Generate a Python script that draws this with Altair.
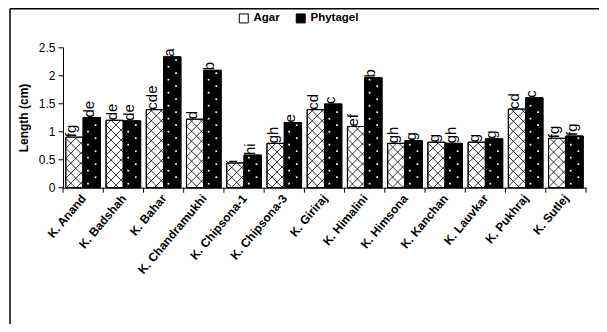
import altair as alt
import pandas as pd
import numpy as np

cultivars = ["K. Anand", "K. Badshah", "K. Bahar", "K. Chandramukhi", "K. Chipsona-1",
             "K. Chipsona-3", "K. Giriraj", "K. Himalini", "K. Himsona", "K. Kanchan",
             "K. Lauvkar", "K. Pukhraj", "K. Sutlej"]
agar = [0.90, 1.20, 1.39, 1.22, 0.44, 0.79, 1.39, 1.09, 0.79, 0.81, 0.81, 1.40, 0.88]
phytagel = [1.25, 1.19, 2.33, 2.09, 0.58, 1.16, 1.49, 1.96, 0.84, 0.79, 0.87, 1.60, 0.92]
agar_letters = ["fg", "de", "cde", "d", "i", "gh", "cd", "ef", "gh", "g", "g", "cd", "fg"]
phyt_letters = ["de", "de", "a", "b", "hi", "e", "c", "b", "g", "gh", "g", "c", "fg"]
series = ["Agar", "Phytagel"]
y_ticks = [0, 0.5, 1, 1.5, 2, 2.5]

W, H = 523, 140.4
N = len(cultivars)
PX_X = W / N
PX_Y = H / 2.5
BW = 0.43

rows = []
for i, c in enumerate(cultivars):
    rows.append(dict(cultivar=c, series="Agar", x0=i - BW, x1=i, xc=i - BW / 2,
                     value=agar[i], letter=agar_letters[i]))
    rows.append(dict(cultivar=c, series="Phytagel", x0=i, x1=i + BW, xc=i + BW / 2,
                     value=phytagel[i], letter=phyt_letters[i]))
df = pd.DataFrame(rows)

# crosshatch segments for Agar bars (derived from the bar rectangles)
segs = []
wpx = BW * PX_X
for i in range(N):
    hpx = agar[i] * PX_Y
    x0 = i - BW
    step = 10.0
    c = -hpx
    while c < wpx + hpx:
        a, b = max(0.0, c - hpx), min(wpx, c)
        if b - a > 0.3:
            segs.append(dict(xa=x0 + a / PX_X, ya=(c - a) / PX_Y, xb=x0 + b / PX_X, yb=(c - b) / PX_Y))
        a, b = max(0.0, -c), min(wpx, hpx - c)
        if b - a > 0.3:
            segs.append(dict(xa=x0 + a / PX_X, ya=(a + c) / PX_Y, xb=x0 + b / PX_X, yb=(b + c) / PX_Y))
        c += step
seg_df = pd.DataFrame(segs)

# dot pattern for Phytagel bars
dots = []
for i in range(N):
    hpx = phytagel[i] * PX_Y
    k = 0
    ypx = 4.0
    while ypx < hpx - 2:
        frac = 0.28 if k % 2 == 0 else 0.72
        dots.append(dict(x=i + frac * BW, y=ypx / PX_Y))
        ypx += 6.5
        k += 1
dot_df = pd.DataFrame(dots)

bounds = pd.DataFrame({"b": [i - 0.5 for i in range(N + 1)]})

xscale = alt.Scale(domain=[-0.5, N - 0.5], nice=False, zero=False)
yscale = alt.Scale(domain=[0, 2.5], nice=False)

label_arr = "[" + ",".join("'" + c + "'" for c in cultivars) + "]"

x_axis = alt.Axis(values=list(range(N)), labelExpr=label_arr + "[datum.value]",
                  ticks=False, title=None, labelAngle=-50, labelAlign="right",
                  labelBaseline="middle", labelFontWeight="bold", labelFontSize=12,
                  labelColor="black", labelPadding=8, domainColor="black",
                  grid=False, labelOverlap=False, labelBound=False)
y_axis = alt.Axis(values=y_ticks, format="~g", title="Length (cm)", grid=False,
                  tickSize=5, tickColor="black", domainColor="black",
                  labelColor="black", labelFontSize=12, labelPadding=3,
                  titleFontWeight="bold", titleFontSize=12, titleColor="black",
                  titlePadding=8)


def X(f):
    return alt.X(f, scale=xscale, axis=x_axis)


def Y(f):
    return alt.Y(f, scale=yscale, axis=y_axis)


base = alt.Chart(df)

bars = base.mark_rect(stroke="black", strokeWidth=1).encode(
    x=X("x0:Q"), x2="x1:Q",
    y=Y("value:Q"), y2=alt.datum(0),
    fill=alt.Fill("series:N", scale=alt.Scale(domain=series, range=["white", "black"]),
                  legend=alt.Legend(title=None, orient="none", direction="horizontal",
                                    legendX=175, legendY=-35, symbolType="square",
                                    symbolSize=81, symbolStrokeColor="black",
                                    symbolStrokeWidth=1, labelFontSize=11.5,
                                    labelFontWeight="bold", labelColor="black",
                                    columnPadding=14, labelOffset=4)),
)

hatch = alt.Chart(seg_df).mark_rule(color="black", strokeWidth=0.8).encode(
    x=X("xa:Q"), x2="xb:Q", y=Y("ya:Q"), y2="yb:Q",
)

dotl = alt.Chart(dot_df).mark_square(size=3, color="white", opacity=1).encode(
    x=X("x:Q"), y=Y("y:Q"),
)

outline = base.mark_rect(stroke="black", strokeWidth=1, fillOpacity=0).encode(
    x=X("x0:Q"), x2="x1:Q", y=Y("value:Q"), y2=alt.datum(0),
)

letters = base.mark_text(angle=270, align="left", baseline="middle", dy=-3,
                         fontSize=15, color="black").encode(
    x=X("xc:Q"), y=Y("value:Q"), text="letter:N",
)

xticks = alt.Chart(bounds).mark_rule(color="black", strokeWidth=1).encode(
    x=X("b:Q"), y=alt.value(H), y2=alt.value(H + 5),
)

one = pd.DataFrame({"a": [0]})
border_left = alt.Chart(one).mark_rule(color="black", strokeWidth=1.5).encode(
    x=alt.value(-53), y=alt.value(-38.5), y2=alt.value(300))
border_top = alt.Chart(one).mark_rule(color="black", strokeWidth=1.5).encode(
    x=alt.value(-53), x2=alt.value(560), y=alt.value(-38.5))

chart = alt.layer(bars, hatch, dotl, outline, letters, xticks, border_left, border_top).properties(
    width=W, height=H,
    padding={"left": 55, "top": 39.3, "right": 13, "bottom": 136},
    autosize=alt.AutoSizeParams(type="none"),
).configure(font="Liberation Sans").configure_view(stroke=None)

chart.save("out.html", embed_options={"renderer": "svg", "actions": False})
